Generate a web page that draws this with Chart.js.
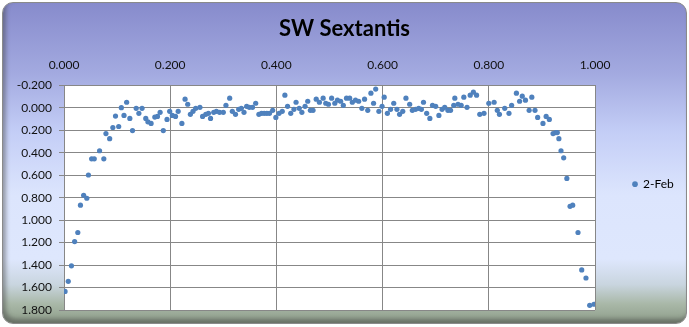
<!DOCTYPE html>
<html>
<head>
<meta charset="utf-8">
<script src="https://cdn.jsdelivr.net/npm/chart.js@4/dist/chart.umd.min.js"></script>
<style>
    html, body { margin: 0; padding: 0; background: #ffffff; }
    #frame {
        position: absolute;
        left: 2px; top: 2px;
        width: 683px; height: 320px;
        border-radius: 11px;
        border: 1px solid #8a8a8a;
        background: linear-gradient(to bottom, #878bcc 0%, #a3aae0 22%, #c3cdf6 40%, #dce5fd 60%, #dee7fd 80%, #c9d5df 88%, #a9b8a8 94%, #8d9c89 100%);
        box-shadow: inset 3px -4px 4px rgba(60, 60, 60, 0.45);
    }
    #wrap { position: absolute; left: 0; top: 0; width: 689px; height: 327px; }
</style>
</head>
<body>
<div id="frame"></div>
<div id="wrap"><canvas id="lightCurve" width="689" height="327"></canvas></div>
<script>
const seriesName = '2-Feb';
const phase = [
    0.002, 0.008, 0.014, 0.020, 0.026, 0.031, 0.037, 0.043, 0.046, 0.052,
    0.057, 0.067, 0.075, 0.079, 0.086, 0.092, 0.097, 0.103, 0.108, 0.113,
    0.118, 0.124, 0.129, 0.136, 0.141, 0.147, 0.154, 0.158, 0.164, 0.171,
    0.176, 0.181, 0.187, 0.194, 0.199, 0.204, 0.210, 0.215, 0.222, 0.228,
    0.233, 0.238, 0.243, 0.248, 0.256, 0.261, 0.267, 0.272, 0.276, 0.282,
    0.287, 0.293, 0.300, 0.305, 0.312, 0.317, 0.323, 0.329, 0.334, 0.339,
    0.344, 0.349, 0.355, 0.361, 0.367, 0.372, 0.377, 0.382, 0.387, 0.393,
    0.399, 0.405, 0.411, 0.416, 0.421, 0.427, 0.433, 0.437, 0.443, 0.448,
    0.454, 0.459, 0.464, 0.469, 0.475, 0.481, 0.488, 0.493, 0.498, 0.504,
    0.510, 0.515, 0.521, 0.526, 0.532, 0.538, 0.543, 0.549, 0.555, 0.561,
    0.566, 0.572, 0.578, 0.583, 0.587, 0.593, 0.599, 0.603, 0.609, 0.615,
    0.621, 0.627, 0.632, 0.638, 0.644, 0.651, 0.656, 0.662, 0.668, 0.673,
    0.677, 0.683, 0.689, 0.694, 0.700, 0.706, 0.712, 0.717, 0.723, 0.728,
    0.734, 0.736, 0.742, 0.748, 0.753, 0.759, 0.765, 0.771, 0.777, 0.783,
    0.791, 0.800, 0.810, 0.816, 0.820, 0.830, 0.838, 0.843, 0.852, 0.858,
    0.863, 0.869, 0.876, 0.881, 0.887, 0.892, 0.902, 0.908, 0.914, 0.921,
    0.926, 0.929, 0.932, 0.936, 0.941, 0.947, 0.953, 0.958, 0.968, 0.975,
    0.983, 0.990, 0.998
];
const magnitude = [
    1.635, 1.545, 1.407, 1.191, 1.110, 0.867, 0.778, 0.805, 0.598, 0.454,
    0.454, 0.382, 0.454, 0.229, 0.274, 0.175, 0.073, 0.166, -0.002, 0.067,
    -0.050, 0.094, 0.202, 0.004, 0.049, 0.004, 0.094, 0.124, 0.139, 0.082,
    0.076, 0.040, 0.202, 0.103, 0.031, 0.067, 0.076, 0.031, 0.139, -0.077,
    -0.032, 0.058, 0.031, 0.004, -0.005, 0.076, 0.058, 0.049, 0.094, 0.040,
    0.031, 0.040, 0.040, -0.023, -0.086, 0.031, 0.058, 0.013, 0.004, 0.040,
    -0.014, -0.005, -0.005, -0.041, 0.058, 0.049, 0.049, 0.049, 0.049, 0.022,
    0.085, 0.049, 0.031, -0.113, -0.014, 0.049, 0.013, -0.050, 0.004, 0.040,
    -0.014, -0.059, 0.022, 0.022, -0.077, -0.050, -0.086, -0.041, -0.032, -0.086,
    -0.041, -0.068, -0.059, -0.023, -0.086, -0.086, -0.050, -0.068, -0.059, 0.004,
    -0.077, 0.022, -0.131, -0.041, -0.167, 0.031, -0.014, -0.095, 0.049, 0.013,
    -0.041, 0.013, 0.058, 0.031, -0.086, -0.032, 0.022, 0.013, 0.004, 0.013,
    -0.050, 0.049, 0.094, -0.023, -0.014, 0.067, 0.013, -0.005, 0.022, 0.022,
    -0.023, -0.086, -0.032, -0.023, -0.095, -0.005, -0.113, -0.140, -0.113, 0.058,
    0.049, -0.041, -0.050, 0.022, 0.058, 0.004, 0.049, -0.023, -0.131, -0.059,
    -0.104, -0.068, 0.022, -0.095, 0.022, 0.085, 0.139, 0.076, 0.103, 0.229,
    0.220, 0.220, 0.274, 0.382, 0.445, 0.628, 0.877, 0.867, 1.110, 1.443,
    1.515, 1.758, 1.749
];

const points = phase.map((p, i) => ({ x: p, y: magnitude[i] }));

// white plot area like the Excel chart
const plotBackground = {
    id: 'plotBackground',
    beforeDraw(chart) {
        const { ctx, chartArea: a } = chart;
        ctx.save();
        ctx.fillStyle = '#ffffff';
        ctx.fillRect(a.left, a.top, a.right - a.left, a.bottom - a.top);
        ctx.restore();
    }
};

// keep the legend column at a fixed width so the plot ends where Excel put it
const legendWidth = {
    id: 'legendWidth',
    beforeLayout(chart) {
        const legend = chart.legend;
        if (legend && !legend._fixedWidth) {
            const fit = legend.fit;
            legend.fit = function () {
                fit.call(this);
                this.width = 84;
            };
            legend._fixedWidth = true;
        }
    }
};

const gridColor = '#878787';
const tickFont = { family: 'Lato', size: 12 };

new Chart(document.getElementById('lightCurve').getContext('2d'), {
    type: 'scatter',
    data: {
        datasets: [{
            label: seriesName,
            data: points,
            backgroundColor: '#4f81bd',
            borderColor: '#4f81bd',
            borderWidth: 0,
            pointRadius: 2.6,
            pointHoverRadius: 2.6
        }]
    },
    options: {
        responsive: false,
        animation: false,
        layout: { padding: { left: 10, right: 10, top: 0, bottom: 17 } },
        plugins: {
            tooltip: { enabled: false },
            title: {
                display: true,
                text: 'SW Sextantis',
                color: '#000000',
                font: { family: 'Lato', size: 22, weight: 'bold', lineHeight: 1.2 },
                padding: { top: 16, bottom: 0 }
            },
            legend: {
                position: 'right',
                fullSize: true,
                title: {
                    display: true,
                    text: '',
                    font: { family: 'Lato', size: 12, lineHeight: 1.2 },
                    padding: { top: 0, bottom: 44 }
                },
                labels: {
                    usePointStyle: true,
                    pointStyle: 'circle',
                    boxWidth: 4,
                    boxHeight: 4,
                    color: '#000000',
                    font: { family: 'Lato', size: 12 },
                    padding: 38
                }
            }
        },
        scales: {
            x: {
                type: 'linear',
                position: 'top',
                min: 0,
                max: 1,
                ticks: {
                    stepSize: 0.2,
                    color: '#111111',
                    font: tickFont,
                    padding: 13,
                    callback: v => v.toFixed(3)
                },
                grid: { color: gridColor, lineWidth: 1, drawTicks: false },
                border: { color: gridColor, width: 1 },
                afterFit(scale) { scale.height = 43; }
            },
            y: {
                type: 'linear',
                reverse: true,
                min: -0.2,
                max: 1.8,
                ticks: {
                    stepSize: 0.2,
                    color: '#111111',
                    font: tickFont,
                    padding: 7,
                    callback: v => v.toFixed(3)
                },
                grid: { color: gridColor, lineWidth: 1, tickLength: 5 },
                border: { color: gridColor, width: 1 },
                afterFit(scale) { scale.width = 54; }
            }
        }
    },
    plugins: [plotBackground, legendWidth]
});
</script>
</body>
</html>
